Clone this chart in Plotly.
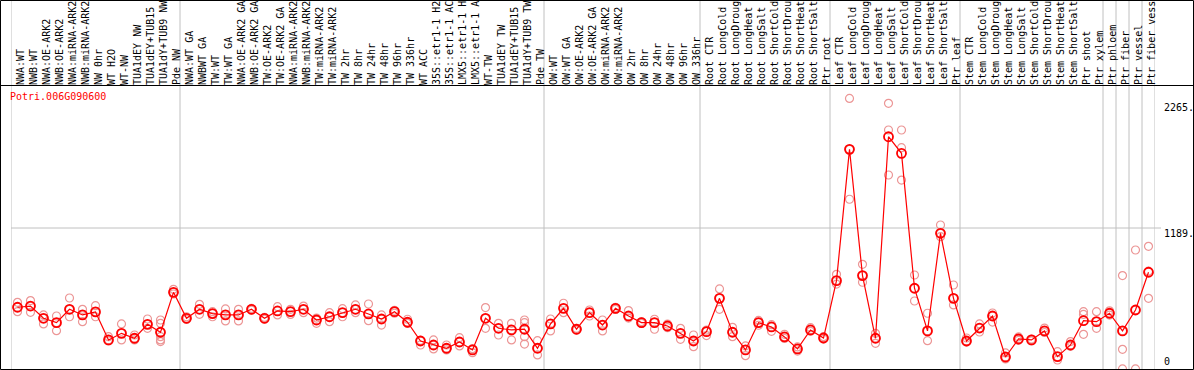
import plotly.graph_objects as go

categories = [
    "NWA:WT", "NWB:WT", "NWA:OE-ARK2", "NWB:OE-ARK2", "NWA:miRNA-ARK2", "NWB:miRNA-ARK2",
    "NW 0hr", "WT H2O", "WT-NW", "TUA1dEY NW", "TUA1dEY+TUB15", "TUA1dY+TUB9 NW", "Pde NW",
    "NWA:WT GA", "NWBWT GA", "TW:WT", "TW:WT GA", "NWA:OE-ARK2 GA", "NWB:OE-ARK2 GA",
    "TW:OE-ARK2", "TW:OE-ARK2 GA", "NWA:miRNA-ARK2", "NWB:miRNA-ARK2", "TW:miRNA-ARK2",
    "TW:miRNA-ARK2", "TW 2hr", "TW 8hr", "TW 24hr", "TW 48hr", "TW 96hr", "TW 336hr",
    "WT ACC", "35S::etr1-1 H2", "35S::etr1-1 AC", "LMX5::etr1-1 H", "LMX5::etr1-1 A",
    "WT-TW", "TUA1dEY TW", "TUA1dEY+TUB15", "TUA1dY+TUB9 TW", "Pde TW",
    "OW:WT", "OW:WT GA", "OW:OE-ARK2", "OW:OE-ARK2 GA", "OW:miRNA-ARK2", "OW:miRNA-ARK2",
    "OW 2hr", "OW 8hr", "OW 24hr", "OW 48hr", "OW 96hr", "OW 336hr",
    "Root CTR", "Root LongCold", "Root LongDroug", "Root LongHeat", "Root LongSalt",
    "Root ShortCold", "Root ShortDrou", "Root ShortHeat", "Root ShortSalt", "Ptr root",
    "Leaf CTR", "Leaf LongCold", "Leaf LongDroug", "Leaf LongHeat", "Leaf LongSalt",
    "Leaf ShortCold", "Leaf ShortDrou", "Leaf ShortHeat", "Leaf ShortSalt", "Ptr leaf",
    "Stem CTR", "Stem LongCold", "Stem LongDroug", "Stem LongHeat", "Stem LongSalt",
    "Stem ShortCold", "Stem ShortDrou", "Stem ShortHeat", "Stem ShortSalt", "Ptr shoot",
    "Ptr xylem", "Ptr phloem", "Ptr fiber", "Ptr vessel", "Ptr fiber vess",
]

means = [
    530, 540, 438, 402, 513, 466, 491, 258, 313, 272, 388, 322, 654,
    438, 513, 477, 466, 466, 513, 438, 499, 493, 513, 424, 451, 485, 513, 474, 432, 493, 405,
    249, 216, 189, 241, 175, 438, 355, 341, 347, 189,
    391, 521, 347, 485, 382, 521, 457, 402, 402, 374, 313, 249,
    327, 604, 322, 175, 402, 366, 283, 183, 341, 274,
    751, 1843, 793, 272, 1948, 1810, 688, 333, 1145, 604,
    249, 357, 457, 116, 266, 258, 333, 119, 216, 418,
    410, 480, 333, 507, 821,
]

replicates = [
    [571, 530, 493], [585, 540, 488], [466, 438, 391], [457, 402, 335], [607, 513, 451],
    [513, 466, 410], [543, 491, 451], [285, 258, 250], [391, 313, 258], [299, 272, 258],
    [432, 388, 355], [424, 396, 322, 285, 258, 244], [679, 654, 640],
    [450, 438, 428], [554, 513, 471], [493, 477, 451], [516, 466, 416], [513, 466, 416],
    [520, 513, 505], [445, 438, 430], [535, 499, 466], [513, 493, 470], [540, 513, 485],
    [440, 424, 396], [485, 451, 410], [518, 485, 451], [549, 513, 485], [557, 474, 418],
    [466, 432, 382], [505, 493, 480], [430, 405, 395],
    [255, 249, 216], [258, 216, 183], [216, 189, 175], [277, 241, 208], [185, 175, 152],
    [527, 438, 355], [396, 355, 299], [396, 341, 258], [424, 402, 347, 285, 224], [252, 189, 133],
    [432, 391, 333], [563, 521, 485], [355, 347, 340], [507, 485, 457], [424, 382, 333],
    [530, 521, 512], [502, 457, 440], [410, 402, 395], [430, 402, 347], [390, 374, 360],
    [355, 313, 263], [299, 249, 202],
    [340, 327, 294], [682, 604, 513], [363, 322, 285], [208, 175, 127], [420, 402, 380],
    [385, 366, 330], [305, 283, 270], [200, 183, 165], [360, 341, 330], [285, 274, 265],
    [804, 751, 723], [2267, 1843, 1428], [887, 793, 738], [313, 272, 230], [2226, 2004, 1630],
    [2004, 1857, 1588], [798, 688, 582], [480, 333, 252], [1214, 1145, 1117], [715, 604, 549],
    [274, 249, 240], [391, 357, 324], [482, 457, 407], [150, 116, 100], [283, 266, 255],
    [266, 258, 250], [357, 333, 320], [160, 119, 91], [244, 216, 205], [493, 470, 305],
    [493, 410, 355], [500, 480, 465], [793, 333, 180, 17], [1006, 507, 17], [1037, 830, 604],
]

group_bounds = [-0.5, 12.5, 40.5, 52.5, 62.5, 72.5, 83.5, 84.5, 85.5, 86.5, 87.5]
gridline_value = 1189
axis_labels = ["2265.", "1189.", "0"]
title_text = "Potri.006G090600"

W, H = 1194, 370
L, R, T, B = 11, 1155, 86, 370
YMIN, YMAX = 8, 2370


def px_x(p):
    return (p - L) / (R - L)


def px_y(p):
    return (B - p) / (B - T)


xs = list(range(len(categories)))
rep_x, rep_y = [], []
for i, reps in enumerate(replicates):
    for v in reps:
        rep_x.append(i)
        rep_y.append(v)

fig = go.Figure()
fig.add_trace(go.Scatter(
    x=rep_x, y=rep_y, mode="markers",
    marker=dict(symbol="circle-open", size=8, color="#ec9696", line=dict(width=1.2)),
    hoverinfo="skip", showlegend=False,
))
fig.add_trace(go.Scatter(
    x=xs, y=means, mode="lines+markers",
    line=dict(color="#ff0000", width=1.2),
    marker=dict(symbol="circle-open", size=9, color="#ff0000", line=dict(width=1.8)),
    showlegend=False,
))

shapes = []
for b in group_bounds:
    shapes.append(dict(type="line", xref="x", yref="paper", x0=b, x1=b,
                       y0=0, y1=px_y(0), line=dict(color="#c0c0c0", width=1), layer="below"))
shapes.append(dict(type="line", xref="paper", yref="y", x0=0, x1=px_x(1161),
                   y0=gridline_value, y1=gridline_value,
                   line=dict(color="#c0c0c0", width=1), layer="below"))
shapes.append(dict(type="line", xref="paper", yref="paper", x0=px_x(0), x1=px_x(W),
                   y0=px_y(85.5), y1=px_y(85.5), line=dict(color="black", width=1)))
shapes.append(dict(type="rect", xref="paper", yref="paper", x0=px_x(0.5), x1=px_x(W - 0.5),
                   y0=px_y(H - 0.5), y1=px_y(0.5), line=dict(color="black", width=1)))

annotations = [dict(text=title_text, xref="paper", yref="paper", x=px_x(8), y=px_y(97),
                    xanchor="left", yanchor="middle", showarrow=False,
                    font=dict(family="DejaVu Sans Mono", size=10, color="#ff0000"))]
label_py = [107, 233, 361]
for t, py in zip(axis_labels, label_py):
    annotations.append(dict(text=t, xref="paper", yref="paper", x=px_x(1162), y=px_y(py),
                            xanchor="left", yanchor="middle", showarrow=False,
                            font=dict(family="DejaVu Sans Mono", size=10, color="black")))

fig.update_layout(
    width=W, height=H,
    margin=dict(l=L, r=W - R, t=T, b=H - B, pad=0),
    paper_bgcolor="white", plot_bgcolor="white",
    shapes=shapes, annotations=annotations,
    hovermode=False,
    xaxis=dict(range=[-0.5, len(categories) - 0.5], side="top", tickmode="array",
               tickvals=xs, ticktext=categories, tickangle=-90, showgrid=False,
               zeroline=False, showline=False, ticks="", ticklabelshift=3,
               tickfont=dict(family="DejaVu Sans Mono", size=10, color="black")),
    yaxis=dict(range=[YMIN, YMAX], showgrid=False, zeroline=False, showticklabels=False,
               showline=False, ticks=""),
)

fig.write_html("out.html", config={"displayModeBar": False, "staticPlot": True},
               post_script="document.body.style.margin='0';document.body.style.overflow='hidden';")
